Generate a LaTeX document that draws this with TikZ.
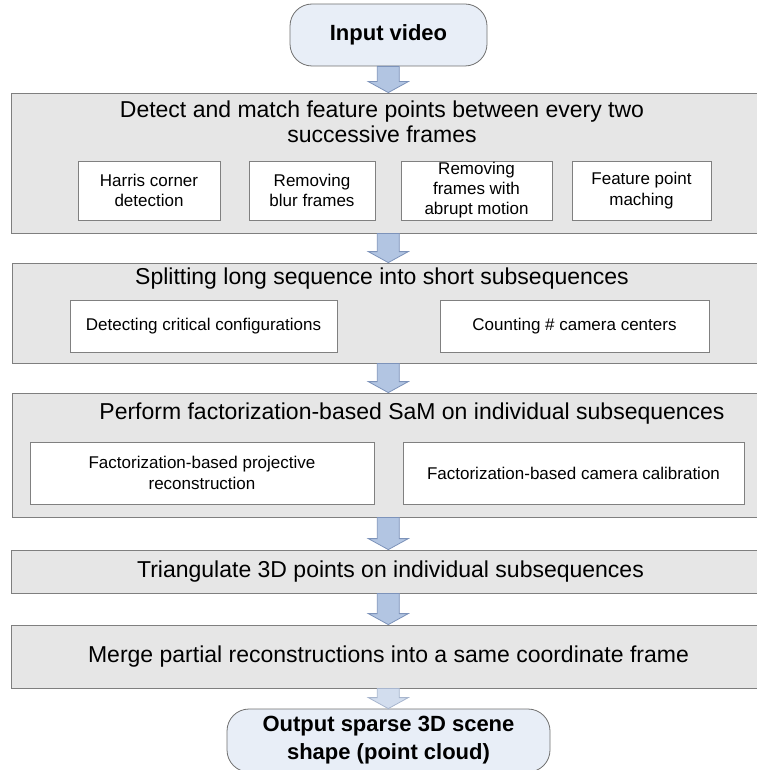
\documentclass[tikz,border=0pt]{standalone}
\usepackage{fontspec}
\setmainfont{Liberation Sans}
\usetikzlibrary{calc}

\definecolor{stagefill}{HTML}{E6E6E6}
\definecolor{stageline}{HTML}{7F7F7F}
\definecolor{subline}{HTML}{808080}
\definecolor{termfill}{HTML}{E8EEF7}
\definecolor{termline}{HTML}{6F6F6F}
\definecolor{arrowfill}{HTML}{B2C5E2}
\definecolor{arrowline}{HTML}{7D93BA}
\definecolor{fadefill}{HTML}{D2DDEE}
\definecolor{fadeline}{HTML}{A8B6CE}

\tikzset{
  stage/.style={draw=stageline, fill=stagefill, line width=0.8pt, inner sep=0pt},
  stagetitle/.style={inner sep=0pt, align=center,
    font=\fontsize{23}{25}\selectfont},
  subbox/.style={draw=subline, fill=white, line width=0.8pt, inner sep=0pt,
    align=center, font=\fontsize{17}{20.5}\selectfont},
  terminal/.style={draw=termline, fill=termfill, line width=0.8pt,
    rounded corners=22pt, inner sep=0pt, align=center,
    font=\bfseries\fontsize{22}{28}\selectfont},
  blockarrow/.style={fill=arrowfill, draw=arrowline, line width=0.8pt,
    line join=miter},
  fadedarrow/.style={fill=fadefill, draw=fadeline, line width=0.8pt,
    line join=miter}
}

% block arrow from the bottom edge of one node (#2) to the top edge of another (#3),
% both taken on the vertical axis of the flow
\newcommand\flowarrow[3][blockarrow]{%
  \draw[#1]
    ($(#2.south -| axis)+(-11,0)$) -- ($(#3.north -| axis)+(-11,-11)$)
    -- ($(#3.north -| axis)+(-20,-11)$) -- (#3.north -| axis)
    -- ($(#3.north -| axis)+(20,-11)$) -- ($(#3.north -| axis)+(11,-11)$)
    -- ($(#2.south -| axis)+(11,0)$) -- cycle;}

\begin{document}
\begin{tikzpicture}[x=1pt,y=-1pt]
\useasboundingbox (0,0) rectangle (756,770);
\coordinate (axis) at (388.3,0);

% start
\node[terminal, minimum width=197pt, minimum height=62pt] (in) at (388.5,35) {Input video};

% stage 1: feature points
\node[stage, minimum width=749pt, minimum height=140pt] (s1) at (385.5,163) {};
\node[stagetitle] (t1) at (382,122) {Detect and match feature points between every two\\successive frames};
\node[subbox, minimum width=142pt, minimum height=59pt] (a1) at (149,190.5) {Harris corner\\detection};
\node[subbox, minimum width=126pt, minimum height=59pt] (a2) at (312,190.5) {Removing\\blur frames};
\node[subbox, minimum width=151pt, minimum height=59pt, font=\fontsize{17}{20}\selectfont] (a3) at (476.5,190.5) {Removing\\frames with\\abrupt motion};
\node[subbox, minimum width=139pt, minimum height=59pt] (a4) at (641.5,190.5) {Feature point\\maching};

% stage 2: splitting
\node[stage, minimum width=748pt, minimum height=100pt] (s2) at (386,313) {};
\node[stagetitle] (t2) at (382,279) {Splitting long sequence into short subsequences};
\node[subbox, minimum width=267pt, minimum height=52pt] (b1) at (203.5,326) {Detecting critical configurations};
\node[subbox, minimum width=269pt, minimum height=52pt] (b2) at (574.5,326) {Counting \# camera centers};

% stage 3: factorization
\node[stage, minimum width=748pt, minimum height=124pt] (s3) at (386,455) {};
\node[stagetitle] (t3) at (412,414) {Perform factorization-based SaM on individual subsequences};
\node[subbox, minimum width=344pt, minimum height=62pt] (c1) at (202,473) {Factorization-based projective\\reconstruction};
\node[subbox, minimum width=341pt, minimum height=62pt] (c2) at (573.5,473) {Factorization-based camera calibration};

% stage 4: triangulation
\node[stage, minimum width=749pt, minimum height=43pt, stagetitle] (s4) at (385.5,571.5) {\hspace*{10pt}Triangulate 3D points on individual subsequences};

% stage 5: merging
\node[stage, minimum width=749pt, minimum height=63pt, stagetitle] (s5) at (385.5,656.5) {\hspace*{6pt}Merge partial reconstructions into a same coordinate frame};

% end
\node[terminal, minimum width=323pt, minimum height=63pt] (out) at (388.5,740.5) {Output sparse 3D scene\\shape (point cloud)};

% flow
\flowarrow{in}{s1}
\flowarrow{s1}{s2}
\flowarrow{s2}{s3}
\flowarrow{s3}{s4}
\flowarrow{s4}{s5}
\flowarrow[fadedarrow]{s5}{out}
\end{tikzpicture}
\end{document}
